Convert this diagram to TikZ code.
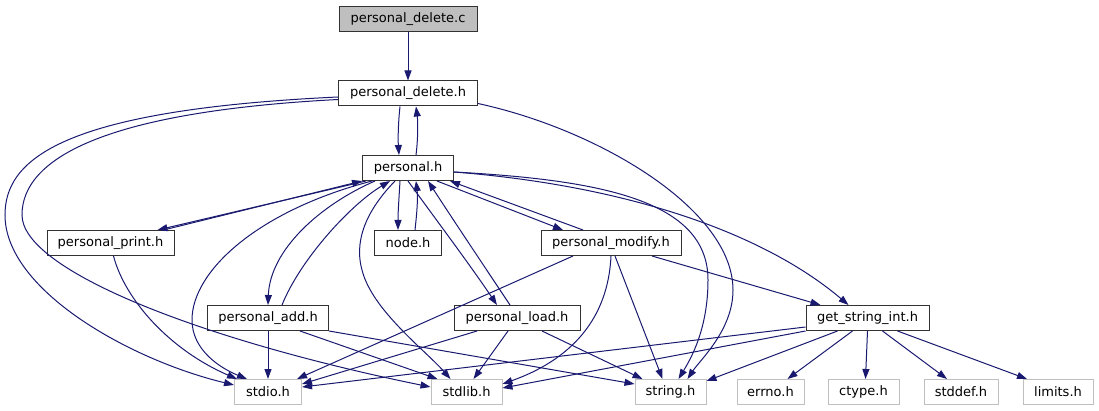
\documentclass[tikz,border=0pt]{standalone}
\usepackage{fontspec}
\setmainfont{DejaVu Sans}
\usetikzlibrary{arrows.meta}
\definecolor{edgeblue}{RGB}{25,25,112}
\definecolor{leafgrey}{RGB}{191,191,191}
\definecolor{boxline}{RGB}{50,50,50}

\begin{document}
\begin{tikzpicture}[x=1pt, y=-1pt,
    font=\fontsize{13}{15}\selectfont,
    file/.style={draw=boxline, line width=1pt, inner sep=0pt,
      minimum height=25pt, minimum width=#1},
    leaf/.style={file=#1, draw=leafgrey},
    inc/.style={edgeblue, line width=1pt, -{Triangle[length=10pt,width=7pt]}}]
  \useasboundingbox (0,0) rectangle (1099,411);

  % Files, row by row
  \node[file=138pt, fill=leafgrey] (pdc) at (408,19)    {personal\_delete.c};
  \node[file=139pt]                (pdh) at (408,93.5)  {personal\_delete.h};
  \node[file=91pt]                 (ph)  at (408,168)   {personal.h};
  \node[file=127pt] (print)  at (110.5,243) {personal\_print.h};
  \node[file=67pt]  (node)   at (408,243)   {node.h};
  \node[file=140pt] (modify) at (611,243)   {personal\_modify.h};
  \node[file=121pt] (add)    at (268,318)   {personal\_add.h};
  \node[file=126pt] (load)   at (517,318)   {personal\_load.h};
  \node[file=123pt] (gsi)    at (867.5,318) {get\_string\_int.h};

  % System headers
  \node[leaf=67pt] (stdio)  at (268,392)   {stdio.h};
  \node[leaf=71pt] (stdlib) at (466.5,392) {stdlib.h};
  \node[leaf=71pt] (string) at (670.5,392) {string.h};
  \node[leaf=67pt] (errno)  at (770.5,392) {errno.h};
  \node[leaf=71pt] (ctype)  at (863.5,392) {ctype.h};
  \node[leaf=74pt] (stddef) at (961,392)   {stddef.h};
  \node[leaf=70pt] (limits) at (1058,392)  {limits.h};

  % personal_delete.c / personal_delete.h
  \draw[inc] (pdc) -- (pdh);
  \draw[inc] ([xshift=-8pt]pdh.south) .. controls (398,125) and (398,140) .. ([xshift=-9pt]ph.north);
  \draw[inc] ([xshift=8pt]ph.north) .. controls (418,140) and (418,122) .. ([xshift=8pt]pdh.south);
  \draw[inc] ([yshift=-3.5pt]pdh.west) .. controls (60,110) and (5,160) .. (5,215)
    .. controls (5,290) and (130,360) .. ([yshift=7pt]stdio.west);
  \draw[inc] ([yshift=-6pt]pdh.west) .. controls (100,112) and (22,160) .. (22,215)
    .. controls (22,270) and (200,340) .. ([yshift=5pt]stdlib.west);
  \draw[inc] ([yshift=-10pt]pdh.east) .. controls (600,130) and (733,210) .. (733,290)
    .. controls (733,330) and (700,360) .. ([xshift=17pt]string.north);

  % personal.h
  \draw[inc] ([xshift=-42pt]ph.south) -- ([xshift=47pt]print.north);
  \draw[inc] ([xshift=53pt]print.north) -- (ph.south west);
  \draw[inc] ([xshift=-8pt]ph.south) .. controls (399,198) and (398,212) .. ([xshift=-10pt]node.north);
  \draw[inc] ([xshift=7pt]node.north) .. controls (417,212) and (418,198) .. ([xshift=8pt]ph.south);
  \draw[inc] ([xshift=-33pt]ph.south) .. controls (320,205) and (270,250) .. (add.north);
  \draw[inc] ([xshift=14pt]add.north) .. controls (300,260) and (350,205) .. ([xshift=-18pt]ph.south);
  \draw[inc] ([xshift=-36pt]ph.south) .. controls (260,210) and (192,270) .. (192,320)
    .. controls (192,350) and (220,368) .. ([xshift=-21pt]stdio.north);
  \draw[inc] ([xshift=-13pt]ph.south) .. controls (362,215) and (355,245) .. (362,270)
    .. controls (372,310) and (425,350) .. ([xshift=-16pt]stdlib.north);
  \draw[inc] (ph.south) .. controls (440,225) and (470,265) .. ([xshift=-20pt]load.north);
  \draw[inc] ([xshift=-7pt]load.north) .. controls (480,260) and (450,215) .. ([xshift=20pt]ph.south);
  \draw[inc] ([xshift=29pt]ph.south) -- ([xshift=-48pt]modify.north);
  \draw[inc] ([xshift=-28pt]modify.north) -- ([xshift=42pt]ph.south);
  \draw[inc] ([yshift=-4pt]ph.east) .. controls (600,180) and (708,200) .. (708,280)
    .. controls (708,330) and (690,360) .. ([xshift=8pt]string.north);
  \draw[inc] ([yshift=-4pt]ph.east) .. controls (620,185) and (760,230) .. ([xshift=-19pt]gsi.north);

  % personal_print.h, personal_add.h, personal_load.h
  \draw[inc] ([xshift=3pt]print.south) .. controls (125,300) and (170,350) .. ([xshift=-31pt]stdio.north);
  \draw[inc] (add) -- (stdio);
  \draw[inc] ([xshift=32pt]add.south) -- ([xshift=-29pt]stdlib.north);
  \draw[inc] (add.south east) -- ([yshift=8pt]string.west);
  \draw[inc] ([xshift=-40pt]load.south) -- ([yshift=8pt]stdio.east);
  \draw[inc] ([xshift=-9pt]load.south) -- ([xshift=7pt]stdlib.north);
  \draw[inc] ([xshift=25pt]load.south) -- ([xshift=-28pt]string.north);

  % personal_modify.h
  \draw[inc] ([xshift=-38pt]modify.south) -- ([xshift=-5pt]stdio.north east);
  \draw[inc] (modify.south) .. controls (608,320) and (570,360) .. ([yshift=8pt]stdlib.east);
  \draw[inc] ([xshift=4pt]modify.south) -- ([xshift=-8pt]string.north);
  \draw[inc] ([xshift=41pt]modify.south) -- ([xshift=-47pt]gsi.north);

  % get_string_int.h
  \draw[inc] ([yshift=-9pt]gsi.west) -- ([yshift=5pt]stdio.east);
  \draw[inc] (gsi.south west) -- ([yshift=4pt]stdlib.east);
  \draw[inc] ([xshift=-30pt]gsi.south) -- ([yshift=11pt]string.east);
  \foreach \leaf/\dx/\tx in {errno/-15/17, ctype/0/2, stddef/15/-14, limits/30/-31}
    \draw[inc] ([xshift=\dx pt]gsi.south) -- ([xshift=\tx pt]\leaf.north);
\end{tikzpicture}
\end{document}
